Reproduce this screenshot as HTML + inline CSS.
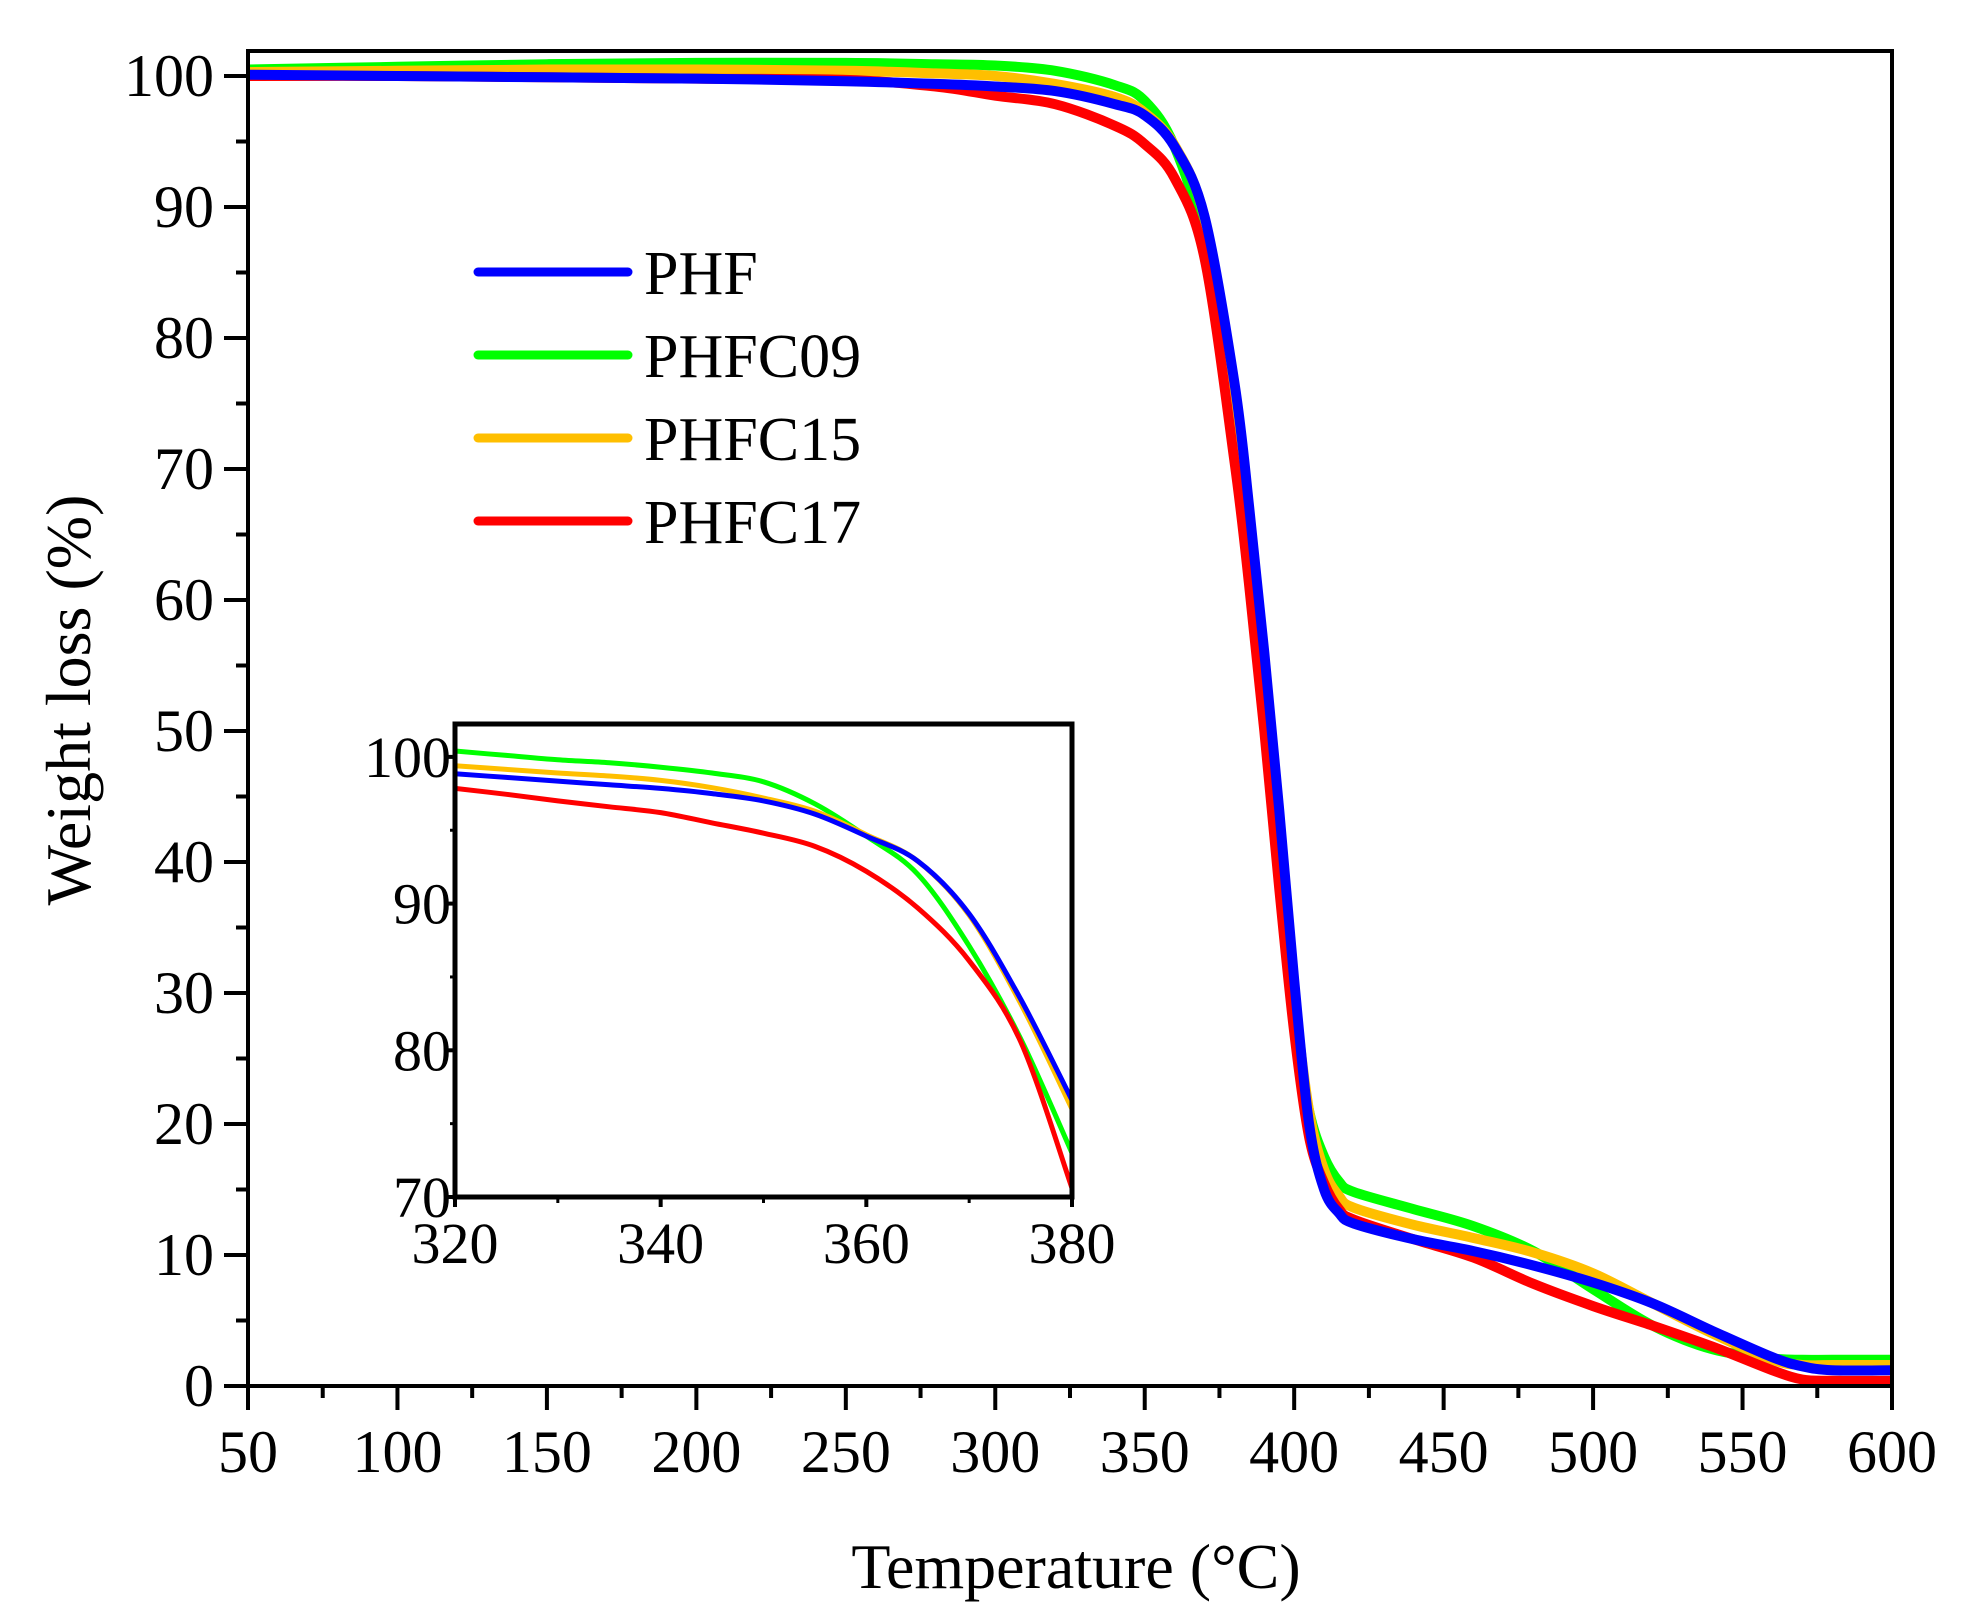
<!DOCTYPE html>
<html><head><meta charset="utf-8"><style>
html,body{margin:0;padding:0;background:#fff;}
svg{display:block;font-family:"Liberation Serif",serif;}
</style></head><body>
<svg id="chart" width="1964" height="1624" viewBox="0 0 1964 1624" xmlns="http://www.w3.org/2000/svg"></svg>
<script>
const series = ['PHF','PHFC09','PHFC15','PHFC17'];
const colors = ['#0000ff','#00ff00','#ffbf00','#ff0000'];
const drawOrder = [1,2,3,0];
const mainT = [50,100,150,200,250,280,300,320,340,350,360,370,380,385,390,395,400,405,410,415,420,440,460,480,500,520,540,560,570,580,600];
const mainPHF   = [100.1,100.0,99.9,99.8,99.6,99.4,99.2,98.85,97.85,97.0,94.6,89.3,76.6,67,56,44,31,20,15,13.2,12.4,11.2,10.3,9.2,7.9,6.3,4.2,2.2,1.5,1.2,1.2];
const mainPHFC09= [100.5,100.7,100.9,101.0,101.0,100.9,100.8,100.4,99.3,98.1,94.6,87.1,73,63,52,40,28,21,17.5,15.6,14.8,13.5,12.2,10.3,7.4,4.6,2.8,2.1,2.0,2.0,2.0];
const mainPHFC15= [100.3,100.4,100.5,100.5,100.4,100.2,100.0,99.4,98.4,97.2,94.7,89.2,76,66,54,42,30,21,16.5,14.5,13.6,12.3,11.3,10.2,8.6,6.3,4.0,2.0,1.6,1.6,1.6];
const mainPHFC17= [100.0,100.0,99.9,99.8,99.7,99.2,98.5,97.85,96.2,94.8,92.2,86.1,70.6,61,50,38,27,19,15.5,13.5,12.7,11.2,9.8,7.8,6.1,4.6,3.0,1.2,0.5,0.4,0.4];
const insetT = [320,325,330,335,340,345,350,355,360,365,370,375,380];
const insetPHF   = [98.85,98.6,98.35,98.1,97.85,97.5,97.0,96.1,94.6,92.9,89.3,83.5,76.6];
const insetPHFC09= [100.4,100.1,99.8,99.6,99.3,98.9,98.3,96.8,94.6,92.0,87.1,80.8,73.0];
const insetPHFC15= [99.4,99.15,98.9,98.7,98.4,97.9,97.2,96.3,94.7,92.9,89.2,83.2,76.0];
const insetPHFC17= [97.85,97.45,97.0,96.6,96.2,95.5,94.8,93.9,92.2,89.7,86.1,80.6,70.6];
const xTicks = [50,100,150,200,250,300,350,400,450,500,550,600];
const yTicks = [0,10,20,30,40,50,60,70,80,90,100];
const insetXTicks = [320,340,360,380];
const insetYTicks = [70,80,90,100];

const NS='http://www.w3.org/2000/svg';
const svg=document.getElementById('chart');
function mk(tag,attrs,parent){const e=document.createElementNS(NS,tag);for(const k in attrs)e.setAttribute(k,attrs[k]);(parent||svg).appendChild(e);return e;}
function smooth(pts){let d='M'+pts[0][0].toFixed(1)+','+pts[0][1].toFixed(1);for(let i=0;i<pts.length-1;i++){const p0=pts[i-1]||pts[i],p1=pts[i],p2=pts[i+1],p3=pts[i+2]||p2;const c1=[p1[0]+(p2[0]-p0[0])/6,p1[1]+(p2[1]-p0[1])/6],c2=[p2[0]-(p3[0]-p1[0])/6,p2[1]-(p3[1]-p1[1])/6];d+=' C'+c1[0].toFixed(1)+','+c1[1].toFixed(1)+' '+c2[0].toFixed(1)+','+c2[1].toFixed(1)+' '+p2[0].toFixed(1)+','+p2[1].toFixed(1);}return d;}

const X0=248,X1=1892,Y0=1386,Ytop=51;
const xs=v=>X0+(v-50)/550*(X1-X0);
const ys=v=>Y0-v*13.1;
const mainData=[mainPHF,mainPHFC09,mainPHFC15,mainPHFC17];
const mainClip=mk('clipPath',{id:'mc'});mk('rect',{x:X0,y:Ytop,width:X1-X0,height:Y0-Ytop},mainClip);
const g=mk('g',{'clip-path':'url(#mc)'});


drawOrder.forEach(i=>{
  const arr=mainData[i];
  const p=mk('path',{d:smooth(mainT.map((t,j)=>[xs(t),ys(arr[j])])),fill:'none',stroke:colors[i],'stroke-width':10,'stroke-linejoin':'round'},g);
  
  
});
const frame=mk('rect',{x:X0,y:Ytop,width:X1-X0,height:Y0-Ytop,fill:'none',stroke:'#000','stroke-width':4});


xTicks.forEach((t,i)=>{
  mk('line',{x1:xs(t),x2:xs(t),y1:Y0,y2:Y0+24,stroke:'#000','stroke-width':4});
  if(i<xTicks.length-1) mk('line',{x1:xs(t+25),x2:xs(t+25),y1:Y0,y2:Y0+12,stroke:'#000','stroke-width':4});
  const tx=mk('text',{x:xs(t),y:Y0+86,'font-size':60,'text-anchor':'middle'});tx.textContent=t;
  
  
});
yTicks.forEach((t,i)=>{
  mk('line',{x1:X0-24,x2:X0,y1:ys(t),y2:ys(t),stroke:'#000','stroke-width':4});
  if(i<yTicks.length-1) mk('line',{x1:X0-12,x2:X0,y1:ys(t+5),y2:ys(t+5),stroke:'#000','stroke-width':4});
  const tx=mk('text',{x:X0-34,y:ys(t)+20,'font-size':60,'text-anchor':'end'});tx.textContent=t;
  
  
});
const xt=mk('text',{x:1076,y:1588,'font-size':64,'text-anchor':'middle'});xt.textContent='Temperature (°C)';


const yt=mk('text',{x:0,y:0,'font-size':64,'text-anchor':'middle',transform:'translate(90,700) rotate(-90)'});yt.textContent='Weight loss (%)';



series.forEach((s,i)=>{
  const y=272+i*83;
  const ln=mk('line',{x1:478,x2:628,y1:y,y2:y,stroke:colors[i],'stroke-width':9,'stroke-linecap':'round'});
  
  
  const tx=mk('text',{x:644,y:y+22,'font-size':62});tx.textContent=s;
  
  
});

const IX0=455,IX1=1072,IY0=1197,IYtop=724;
const ixs=v=>IX0+(v-320)/60*(IX1-IX0);
const iys=v=>IY0-(v-70)*14.67;
mk('rect',{x:IX0,y:IYtop,width:IX1-IX0,height:IY0-IYtop,fill:'#fff'});
const ic=mk('clipPath',{id:'ic'});mk('rect',{x:IX0,y:IYtop,width:IX1-IX0,height:IY0-IYtop},ic);
const ig=mk('g',{'clip-path':'url(#ic)'});


const insetData=[insetPHF,insetPHFC09,insetPHFC15,insetPHFC17];
drawOrder.forEach(i=>{
  const arr=insetData[i];
  const p=mk('path',{d:smooth(insetT.map((t,j)=>[ixs(t),iys(arr[j])])),fill:'none',stroke:colors[i],'stroke-width':5},ig);
  
  
});
const ifr=mk('rect',{x:IX0,y:IYtop,width:IX1-IX0,height:IY0-IYtop,fill:'none',stroke:'#000','stroke-width':5});


insetXTicks.forEach((t,i)=>{
  mk('line',{x1:ixs(t),x2:ixs(t),y1:IY0,y2:IY0+10,stroke:'#000','stroke-width':4});
  if(i<insetXTicks.length-1) mk('line',{x1:ixs(t+10),x2:ixs(t+10),y1:IY0,y2:IY0+6,stroke:'#000','stroke-width':3});
  const tx=mk('text',{x:ixs(t),y:IY0+66,'font-size':58,'text-anchor':'middle'});tx.textContent=t;
  
  
});
insetYTicks.forEach((t,i)=>{
  mk('line',{x1:IX0-8,x2:IX0,y1:iys(t),y2:iys(t),stroke:'#000','stroke-width':4});
  if(i<insetYTicks.length-1) mk('line',{x1:IX0-5,x2:IX0,y1:iys(t+5),y2:iys(t+5),stroke:'#000','stroke-width':3});
  const tx=mk('text',{x:IX0-4,y:iys(t)+20,'font-size':58,'text-anchor':'end'});tx.textContent=t;
  
  
});
</script>
</body></html>
